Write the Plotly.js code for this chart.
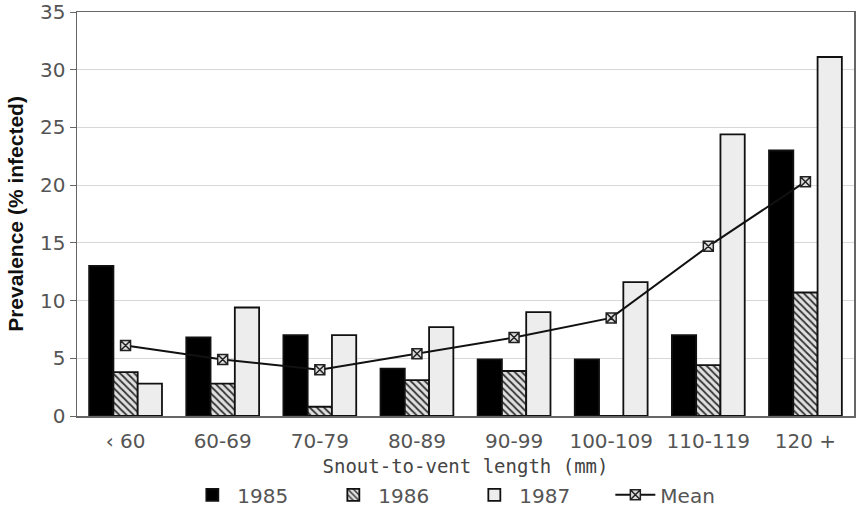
<!DOCTYPE html>
<html><head><meta charset="utf-8">
<script src="https://cdn.plot.ly/plotly-3.0.1.min.js"></script>
<style>html,body{margin:0;padding:0;background:#fff}#chart{width:856px;height:511px}</style>
</head><body><div id="chart"></div>
<script>
var categories = ["‹ 60", "60-69", "70-79", "80-89", "90-99", "100-109", "110-119", "120 +"];
var y1985 = [13.0, 6.8, 7.0, 4.1, 4.9, 4.9, 7.0, 23.0];
var y1986 = [3.8, 2.8, 0.8, 3.1, 3.9, 0, 4.4, 10.7];
var y1987 = [2.8, 9.4, 7.0, 7.7, 9.0, 11.6, 24.4, 31.1];
var yMean = [6.1, 4.9, 4.0, 5.4, 6.8, 8.5, 14.7, 20.3];
var yTicks = [0, 5, 10, 15, 20, 25, 30, 35];

var outline = {color: "#111", width: 1.8};
var traces = [
  {type: "bar", name: "1985", x: categories, y: y1985,
   marker: {color: "#000", line: outline}},
  {type: "bar", name: "1986", x: categories, y: y1986,
   marker: {color: "#d9d9d9", line: outline,
            pattern: {shape: "\\", fgcolor: "#333", bgcolor: "#e0e0e0", size: 5, solidity: 0.35}}},
  {type: "bar", name: "1987", x: categories, y: y1987,
   marker: {color: "#ededed", line: outline}},
  {type: "scatter", mode: "lines+markers", name: "Mean", x: categories, y: yMean,
   line: {color: "#111", width: 2},
   marker: {symbol: "square-x", size: 10, color: "#ddd", line: {color: "#222", width: 1.5}}}
];

var layout = {
  width: 856, height: 511,
  margin: {l: 77, r: 2, t: 12, b: 95, autoexpand: false},
  paper_bgcolor: "#fff", plot_bgcolor: "#fff",
  barmode: "group", bargap: 0.25, bargroupgap: 0,
  font: {family: "DejaVu Sans, sans-serif", color: "#555"},
  showlegend: true,
  legend: {orientation: "h", x: 0.142, xanchor: "left", y: -0.195, yanchor: "middle",
           entrywidth: 86, entrywidthmode: "pixels", itemwidth: 40,
           font: {size: 20, color: "#555", family: "DejaVu Sans"}, traceorder: "normal"},
  xaxis: {
    type: "category", automargin: false,
    showline: true, linecolor: "#666", linewidth: 1.5, mirror: true,
    ticks: "", ticklabelstandoff: 6, tickfont: {size: 20, color: "#555", family: "DejaVu Sans"},
    title: {text: "Snout-to-vent length (mm)", standoff: 8,
            font: {size: 19, color: "#444", family: "DejaVu Sans Mono"}}
  },
  yaxis: {
    range: [0, 35], tickvals: yTicks, automargin: false,
    showline: true, linecolor: "#666", linewidth: 1.5, mirror: true,
    ticks: "outside", ticklen: 6, tickcolor: "#666",
    showgrid: true, gridcolor: "#d8d8d8", gridwidth: 1, zeroline: false,
    tickfont: {size: 20, color: "#555", family: "DejaVu Sans"},
    title: {text: "<b>Prevalence (% infected)</b>", standoff: 10,
            font: {size: 21, color: "#111", family: "Liberation Sans"}}
  }
};
Plotly.newPlot("chart", traces, layout, {displayModeBar: false, staticPlot: true});
</script></body></html>
